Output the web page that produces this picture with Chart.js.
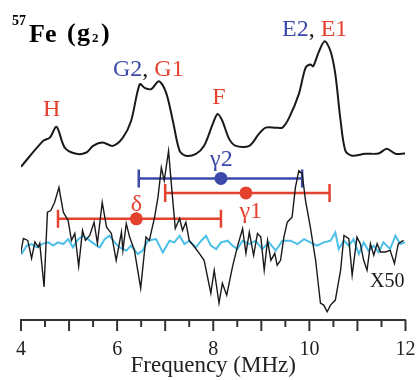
<!DOCTYPE html>
<html>
<head>
<meta charset="utf-8">
<script src="https://cdn.jsdelivr.net/npm/chart.js@4.4.1/dist/chart.umd.min.js"></script>
<style>
  html, body { margin: 0; padding: 0; background: #fff; }
  #wrap { width: 417px; height: 380px; position: relative; }
</style>
</head>
<body>
<div id="wrap"><canvas id="nmrChart"></canvas></div>
<script>
// upper trace (ENDOR spectrum)
const topFreq = [4.0, 4.46, 4.6, 4.74, 4.91, 5.15, 5.36, 5.5, 5.7, 5.91, 6.12, 6.29, 6.47, 6.57, 6.71, 6.87, 7.02, 7.16, 7.3, 7.43, 7.64, 7.81, 7.99, 8.09, 8.19, 8.33, 8.47, 8.75, 8.95, 9.09, 9.3, 9.44, 9.58, 9.78, 9.92, 10.02, 10.08, 10.2, 10.32, 10.44, 10.54, 10.65, 10.75, 10.89, 11.16, 11.44, 11.61, 11.79, 11.99];
const topAmp  = [15.4, 18.0, 18.33, 19.4, 17.33, 16.7, 16.83, 17.5, 17.83, 17.5, 18.33, 20.0, 23.7, 23.33, 23.2, 24.0, 22.83, 20.0, 17.0, 16.5, 16.7, 17.5, 19.7, 20.7, 20.0, 18.2, 17.5, 17.5, 18.7, 19.33, 19.33, 19.33, 20.33, 22.7, 25.33, 25.67, 25.5, 27.0, 28.0, 27.0, 24.7, 20.0, 17.0, 16.5, 16.7, 16.73, 17.2, 16.7, 16.73];

// lower trace (X50, black)
const lowFreq = [3.98, 4.05, 4.14, 4.22, 4.29, 4.36, 4.39, 4.48, 4.55, 4.62, 4.70, 4.79, 4.88, 4.98, 5.05, 5.12, 5.20, 5.28, 5.34, 5.43, 5.52, 5.59, 5.69, 5.78, 5.88, 5.98, 6.09, 6.12, 6.19, 6.26, 6.36, 6.49, 6.60, 6.67, 6.78, 6.85, 6.92, 6.98, 7.07, 7.14, 7.21, 7.30, 7.36, 7.43, 7.50, 7.61, 7.71, 7.81, 7.95, 8.02, 8.12, 8.19, 8.28, 8.40, 8.50, 8.61, 8.68, 8.75, 8.84, 8.92, 8.99, 9.06, 9.13, 9.20, 9.28, 9.33, 9.40, 9.47, 9.54, 9.64, 9.71, 9.78, 9.85, 9.92, 10.02, 10.13, 10.23, 10.30, 10.37, 10.44, 10.54, 10.65, 10.72, 10.82, 10.89, 10.99, 11.06, 11.13, 11.20, 11.27, 11.34, 11.41, 11.48, 11.58, 11.68, 11.77, 11.85, 11.96];
const lowAmp  = [6.33, 8.2, 8.0, 6.2, 7.83, 7.33, 7.7, 3.33, 10.83, 11.0, 11.83, 13.33, 10.83, 10.0, 8.0, 8.7, 5.4, 9.0, 8.0, 8.5, 9.83, 7.7, 11.83, 9.33, 8.7, 6.0, 8.83, 7.0, 9.7, 8.33, 7.0, 3.2, 8.33, 8.0, 10.33, 12.33, 15.33, 14.0, 17.0, 13.0, 9.2, 10.2, 9.0, 9.83, 8.0, 7.33, 6.7, 6.0, 2.7, 5.0, 1.7, 3.7, 2.5, 5.33, 7.33, 9.17, 6.7, 8.83, 6.5, 8.7, 8.33, 5.0, 8.0, 6.0, 6.7, 5.5, 6.0, 8.33, 9.83, 10.33, 13.33, 15.0, 14.7, 12.0, 9.33, 6.0, 1.7, 1.5, 0.83, 1.5, 2.0, 5.0, 8.5, 8.17, 4.5, 8.33, 7.67, 6.0, 5.0, 7.67, 6.5, 7.67, 6.83, 6.83, 7.0, 5.67, 7.67, 8.0];

// reference trace (cyan)
const refFreq = [4.01, 4.12, 4.22, 4.33, 4.43, 4.57, 4.67, 4.77, 4.88, 4.98, 5.08, 5.19, 5.29, 5.39, 5.53, 5.64, 5.74, 5.84, 5.95, 6.05, 6.19, 6.29, 6.43, 6.53, 6.64, 6.81, 6.95, 7.09, 7.19, 7.30, 7.40, 7.50, 7.64, 7.75, 7.85, 7.95, 8.06, 8.16, 8.30, 8.40, 8.50, 8.61, 8.75, 8.88, 9.02, 9.16, 9.30, 9.44, 9.61, 9.75, 9.89, 10.02, 10.16, 10.30, 10.44, 10.54, 10.61, 10.72, 10.82, 10.92, 11.03, 11.13, 11.23, 11.34, 11.44, 11.54, 11.68, 11.79, 11.89, 11.99];
const refAmp  = [6.63, 7.47, 7.63, 7.3, 7.63, 7.8, 7.47, 7.8, 7.63, 8.13, 7.3, 8.13, 8.47, 8.13, 7.63, 7.3, 8.13, 8.47, 7.8, 7.3, 6.97, 7.47, 6.63, 6.97, 7.97, 8.13, 6.8, 7.97, 7.8, 8.47, 7.63, 7.97, 7.3, 7.97, 8.47, 7.47, 7.13, 7.8, 7.97, 7.47, 7.13, 7.97, 7.63, 7.97, 7.13, 7.8, 6.97, 7.97, 7.97, 7.63, 8.13, 7.8, 7.47, 7.8, 7.97, 8.8, 7.13, 7.97, 7.47, 8.13, 6.63, 7.8, 6.97, 7.47, 6.8, 7.8, 7.13, 8.47, 7.63, 7.8];

// error bars
const barNames  = ['δ', 'γ1', 'γ2'];
const barCenter = [6.40, 8.68, 8.16];
const barLow    = [4.77, 7.00, 6.45];
const barHigh   = [8.16, 10.42, 9.85];
const barLevel  = [10.17, 12.77, 14.23];

// axis ticks
const tickLabels = [4, 6, 8, 10, 12];

// peak / annotation labels: text parts, colour key, freq, level
const noteParts = [
  [['H', 'r']],
  [['G2', 'b'], [', ', 'k'], ['G1', 'r']],
  [['F', 'r']],
  [['E2', 'b'], [', ', 'k'], ['E1', 'r']],
  [['δ', 'r']],
  [['γ1', 'r']],
  [['γ2', 'b']],
  [['X50', 'k']]
];
const noteFreq  = [4.64, 6.65, 8.12, 10.11, 6.40, 8.78, 8.17, 11.62];
const noteLevel = [20.5, 24.5, 21.7, 28.5, 11.0, 10.2, 15.5, 3.3];

const RED = '#e4412f';
const BLUE = '#3c49a8';
const CYAN = '#4cbfe8';
const INK = '#1a1a1a';
const colorOf = { r: RED, b: BLUE, k: INK };
const SERIF = '"Liberation Serif", "DejaVu Serif", serif';

const pts = (xs, ys) => xs.map((x, i) => ({ x, y: ys[i] }));

const barColors = [RED, RED, BLUE];
const barSets = barNames.map((name, i) => ({
  label: name,
  data: [
    { x: barLow[i], y: barLevel[i] },
    { x: barCenter[i], y: barLevel[i] },
    { x: barHigh[i], y: barLevel[i] }
  ],
  showLine: true,
  borderColor: barColors[i],
  backgroundColor: barColors[i],
  borderWidth: 2.5,
  pointStyle: ctx => ctx.dataIndex === 1 ? 'circle' : 'line',
  pointRotation: ctx => ctx.dataIndex === 1 ? 0 : 90,
  pointRadius: ctx => ctx.dataIndex === 1 ? 6.5 : 9,
  pointBorderWidth: ctx => ctx.dataIndex === 1 ? 0 : 2.5,
  tension: 0
}));

const decor = {
  id: 'decor',
  afterDraw(chart) {
    const ctx = chart.ctx;
    const xs = chart.scales.x;
    const ys = chart.scales.y;
    ctx.save();

    // half-MHz ticks, longer on the integers
    ctx.strokeStyle = '#333';
    ctx.lineWidth = 2;
    ctx.beginPath();
    xs.ticks.forEach((t, i) => {
      const px = xs.getPixelForTick(i);
      const len = Number.isInteger(t.value) ? 11 : 7;
      ctx.moveTo(px, xs.top);
      ctx.lineTo(px, xs.top + len);
    });
    ctx.stroke();

    // annotations
    ctx.textBaseline = 'alphabetic';
    noteParts.forEach((parts, i) => {
      ctx.font = (i === 7 ? '20px ' : '24px ') + SERIF;
      const total = parts.reduce((s, p) => s + ctx.measureText(p[0]).width, 0);
      let x = xs.getPixelForValue(noteFreq[i]) - total / 2;
      const y = ys.getPixelForValue(noteLevel[i]);
      parts.forEach(p => {
        ctx.fillStyle = colorOf[p[1]];
        ctx.fillText(p[0], x, y);
        x += ctx.measureText(p[0]).width;
      });
    });

    // panel title  57Fe (g2)
    ctx.fillStyle = '#000';
    ctx.font = 'bold 14px ' + SERIF;
    ctx.fillText('57', 12, 25);
    ctx.font = 'bold 26px ' + SERIF;
    ctx.fillText('Fe', 29, 42);
    ctx.fillText('(', 67, 41);
    ctx.fillText('g', 77, 41);
    ctx.fillText(')', 101, 41);
    ctx.font = 'bold 13px ' + SERIF;
    ctx.fillText('2', 92, 42);
    ctx.restore();
  }
};

new Chart(document.getElementById('nmrChart'), {
  type: 'scatter',
  data: {
    datasets: [
      {
        label: 'spectrum',
        data: pts(topFreq, topAmp),
        showLine: true,
        borderColor: INK,
        borderWidth: 2,
        pointRadius: 0,
        tension: 0.3
      },
      {
        label: 'x50',
        data: pts(lowFreq, lowAmp),
        showLine: true,
        borderColor: INK,
        borderWidth: 1.4,
        pointRadius: 0,
        tension: 0
      },
      {
        label: 'ref',
        data: pts(refFreq, refAmp),
        showLine: true,
        borderColor: CYAN,
        borderWidth: 2,
        pointRadius: 0,
        tension: 0
      },
      ...barSets
    ]
  },
  options: {
    responsive: true,
    maintainAspectRatio: false,
    animation: false,
    devicePixelRatio: 1,
    layout: { padding: { top: 10, left: 21, right: 10, bottom: 0 } },
    plugins: {
      legend: { display: false },
      tooltip: { enabled: false }
    },
    scales: {
      x: {
        type: 'linear',
        min: 4,
        max: 12,
        afterFit: s => { s.height = 60; s.paddingLeft = 0; s.paddingRight = 0; },
        grid: { display: false, drawTicks: false },
        border: { display: true, color: '#333', width: 2 },
        ticks: {
          stepSize: 0.5,
          autoSkip: false,
          maxRotation: 0,
          padding: 18,
          color: '#222',
          font: { family: SERIF, size: 20 },
          callback: v => tickLabels.includes(v) ? String(v) : ''
        },
        title: {
          display: true,
          text: 'Frequency (MHz)',
          color: '#222',
          font: { family: SERIF, size: 23 },
          padding: { top: 0, bottom: 0 }
        }
      },
      y: {
        display: false,
        min: 0,
        max: 31
      }
    }
  },
  plugins: [decor]
});
</script>
</body>
</html>
